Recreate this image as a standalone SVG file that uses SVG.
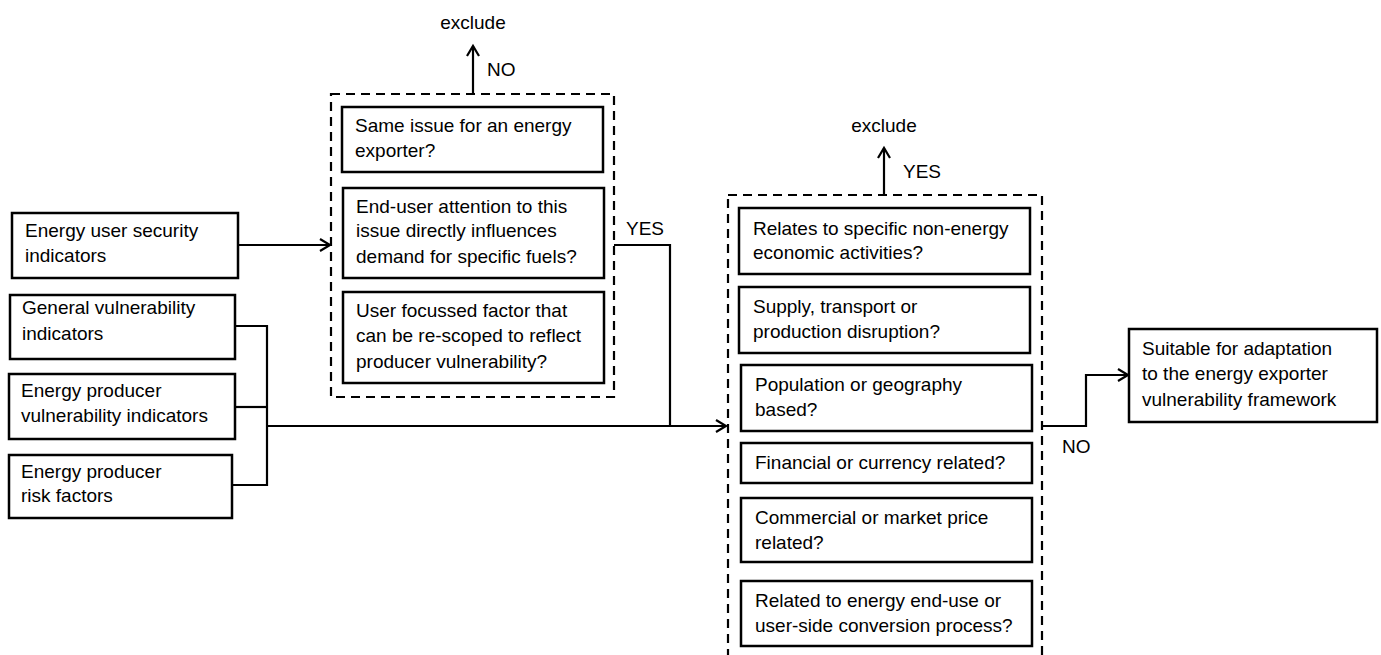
<svg xmlns="http://www.w3.org/2000/svg" width="1381" height="655" viewBox="0 0 1381 655">
<style>
  text { font-family: "Liberation Sans", Arial, sans-serif; font-size: 19px; fill: #000; }
  .box { fill: #fff; stroke: #000; stroke-width: 2.5; }
  .dash { fill: none; stroke: #000; stroke-width: 2.2; stroke-dasharray: 9 6; }
  .conn { fill: none; stroke: #000; stroke-width: 2.2; }
  .mid { text-anchor: middle; }
</style>
<defs>
  <marker id="arr" markerUnits="userSpaceOnUse" markerWidth="14" markerHeight="16" refX="11" refY="7" orient="auto">
    <path d="M1,1 L11,7 L1,13" fill="none" stroke="#000" stroke-width="2.2"/>
  </marker>
</defs>
<rect width="1381" height="655" fill="#fff"/>

<g id="connectors">
  <path class="conn" d="M238,245 H330" marker-end="url(#arr)"/>
  <path class="conn" d="M235,326 H267 V485 H232"/>
  <path class="conn" d="M235,407 H267"/>
  <path class="conn" d="M267,426 H726" marker-end="url(#arr)"/>
  <path class="conn" d="M614,245 H670 V426"/>
  <path class="conn" d="M473,94 V46" marker-end="url(#arr)"/>
  <path class="conn" d="M884,195 V148" marker-end="url(#arr)"/>
  <path class="conn" d="M1042,426 H1086 V375 H1128" marker-end="url(#arr)"/>
  <text x="473" y="29" class="mid">exclude</text>
  <text x="487" y="76">NO</text>
  <text x="626" y="235">YES</text>
  <text x="884" y="132" class="mid">exclude</text>
  <text x="903" y="178">YES</text>
  <text x="1062" y="453">NO</text>
</g>

<g id="energy-user-security">
  <rect class="box" x="12" y="213" width="226" height="65"/>
  <text x="25" y="237">Energy user security</text>
  <text x="25" y="262">indicators</text>
</g>
<g id="general-vulnerability">
  <rect class="box" x="10" y="295" width="225" height="64"/>
  <text x="22" y="314">General vulnerability</text>
  <text x="22" y="340">indicators</text>
</g>
<g id="producer-vulnerability">
  <rect class="box" x="9" y="374" width="226" height="65"/>
  <text x="21" y="397">Energy producer</text>
  <text x="21" y="422">vulnerability indicators</text>
</g>
<g id="producer-risk">
  <rect class="box" x="9" y="455" width="223" height="63"/>
  <text x="21" y="478">Energy producer</text>
  <text x="21" y="502">risk factors</text>
</g>

<g id="filter-1">
  <rect class="dash" x="331" y="94" width="283" height="303"/>
  <g id="same-issue">
    <rect class="box" x="342" y="107" width="261" height="65"/>
    <text x="355" y="132">Same issue for an energy</text>
    <text x="355" y="157">exporter?</text>
  </g>
  <g id="end-user-attention">
    <rect class="box" x="343" y="188" width="261" height="90"/>
    <text x="356" y="213">End-user attention to this</text>
    <text x="356" y="237">issue directly influences</text>
    <text x="356" y="263">demand for specific fuels?</text>
  </g>
  <g id="user-focussed">
    <rect class="box" x="343" y="292" width="261" height="91"/>
    <text x="356" y="317">User focussed factor that</text>
    <text x="356" y="342">can be re-scoped to reflect</text>
    <text x="356" y="368">producer vulnerability?</text>
  </g>
</g>

<g id="filter-2">
  <rect class="dash" x="728" y="195" width="314" height="480"/>
  <g id="non-energy">
    <rect class="box" x="739" y="208" width="291" height="66"/>
    <text x="753" y="235">Relates to specific non-energy</text>
    <text x="753" y="259">economic activities?</text>
  </g>
  <g id="supply">
    <rect class="box" x="739" y="287" width="291" height="66"/>
    <text x="753" y="313">Supply, transport or</text>
    <text x="753" y="338">production disruption?</text>
  </g>
  <g id="population">
    <rect class="box" x="741" y="365" width="291" height="66"/>
    <text x="755" y="391">Population or geography</text>
    <text x="755" y="416">based?</text>
  </g>
  <g id="financial">
    <rect class="box" x="741" y="443" width="291" height="40"/>
    <text x="755" y="469">Financial or currency related?</text>
  </g>
  <g id="commercial">
    <rect class="box" x="741" y="498" width="291" height="64"/>
    <text x="755" y="524">Commercial or market price</text>
    <text x="755" y="549">related?</text>
  </g>
  <g id="end-use">
    <rect class="box" x="741" y="581" width="291" height="65"/>
    <text x="755" y="607">Related to energy end-use or</text>
    <text x="755" y="632">user-side conversion process?</text>
  </g>
</g>

<g id="suitable">
  <rect class="box" x="1129" y="329" width="248" height="93"/>
  <text x="1142" y="355">Suitable for adaptation</text>
  <text x="1142" y="380">to the energy exporter</text>
  <text x="1142" y="406">vulnerability framework</text>
</g>
</svg>
